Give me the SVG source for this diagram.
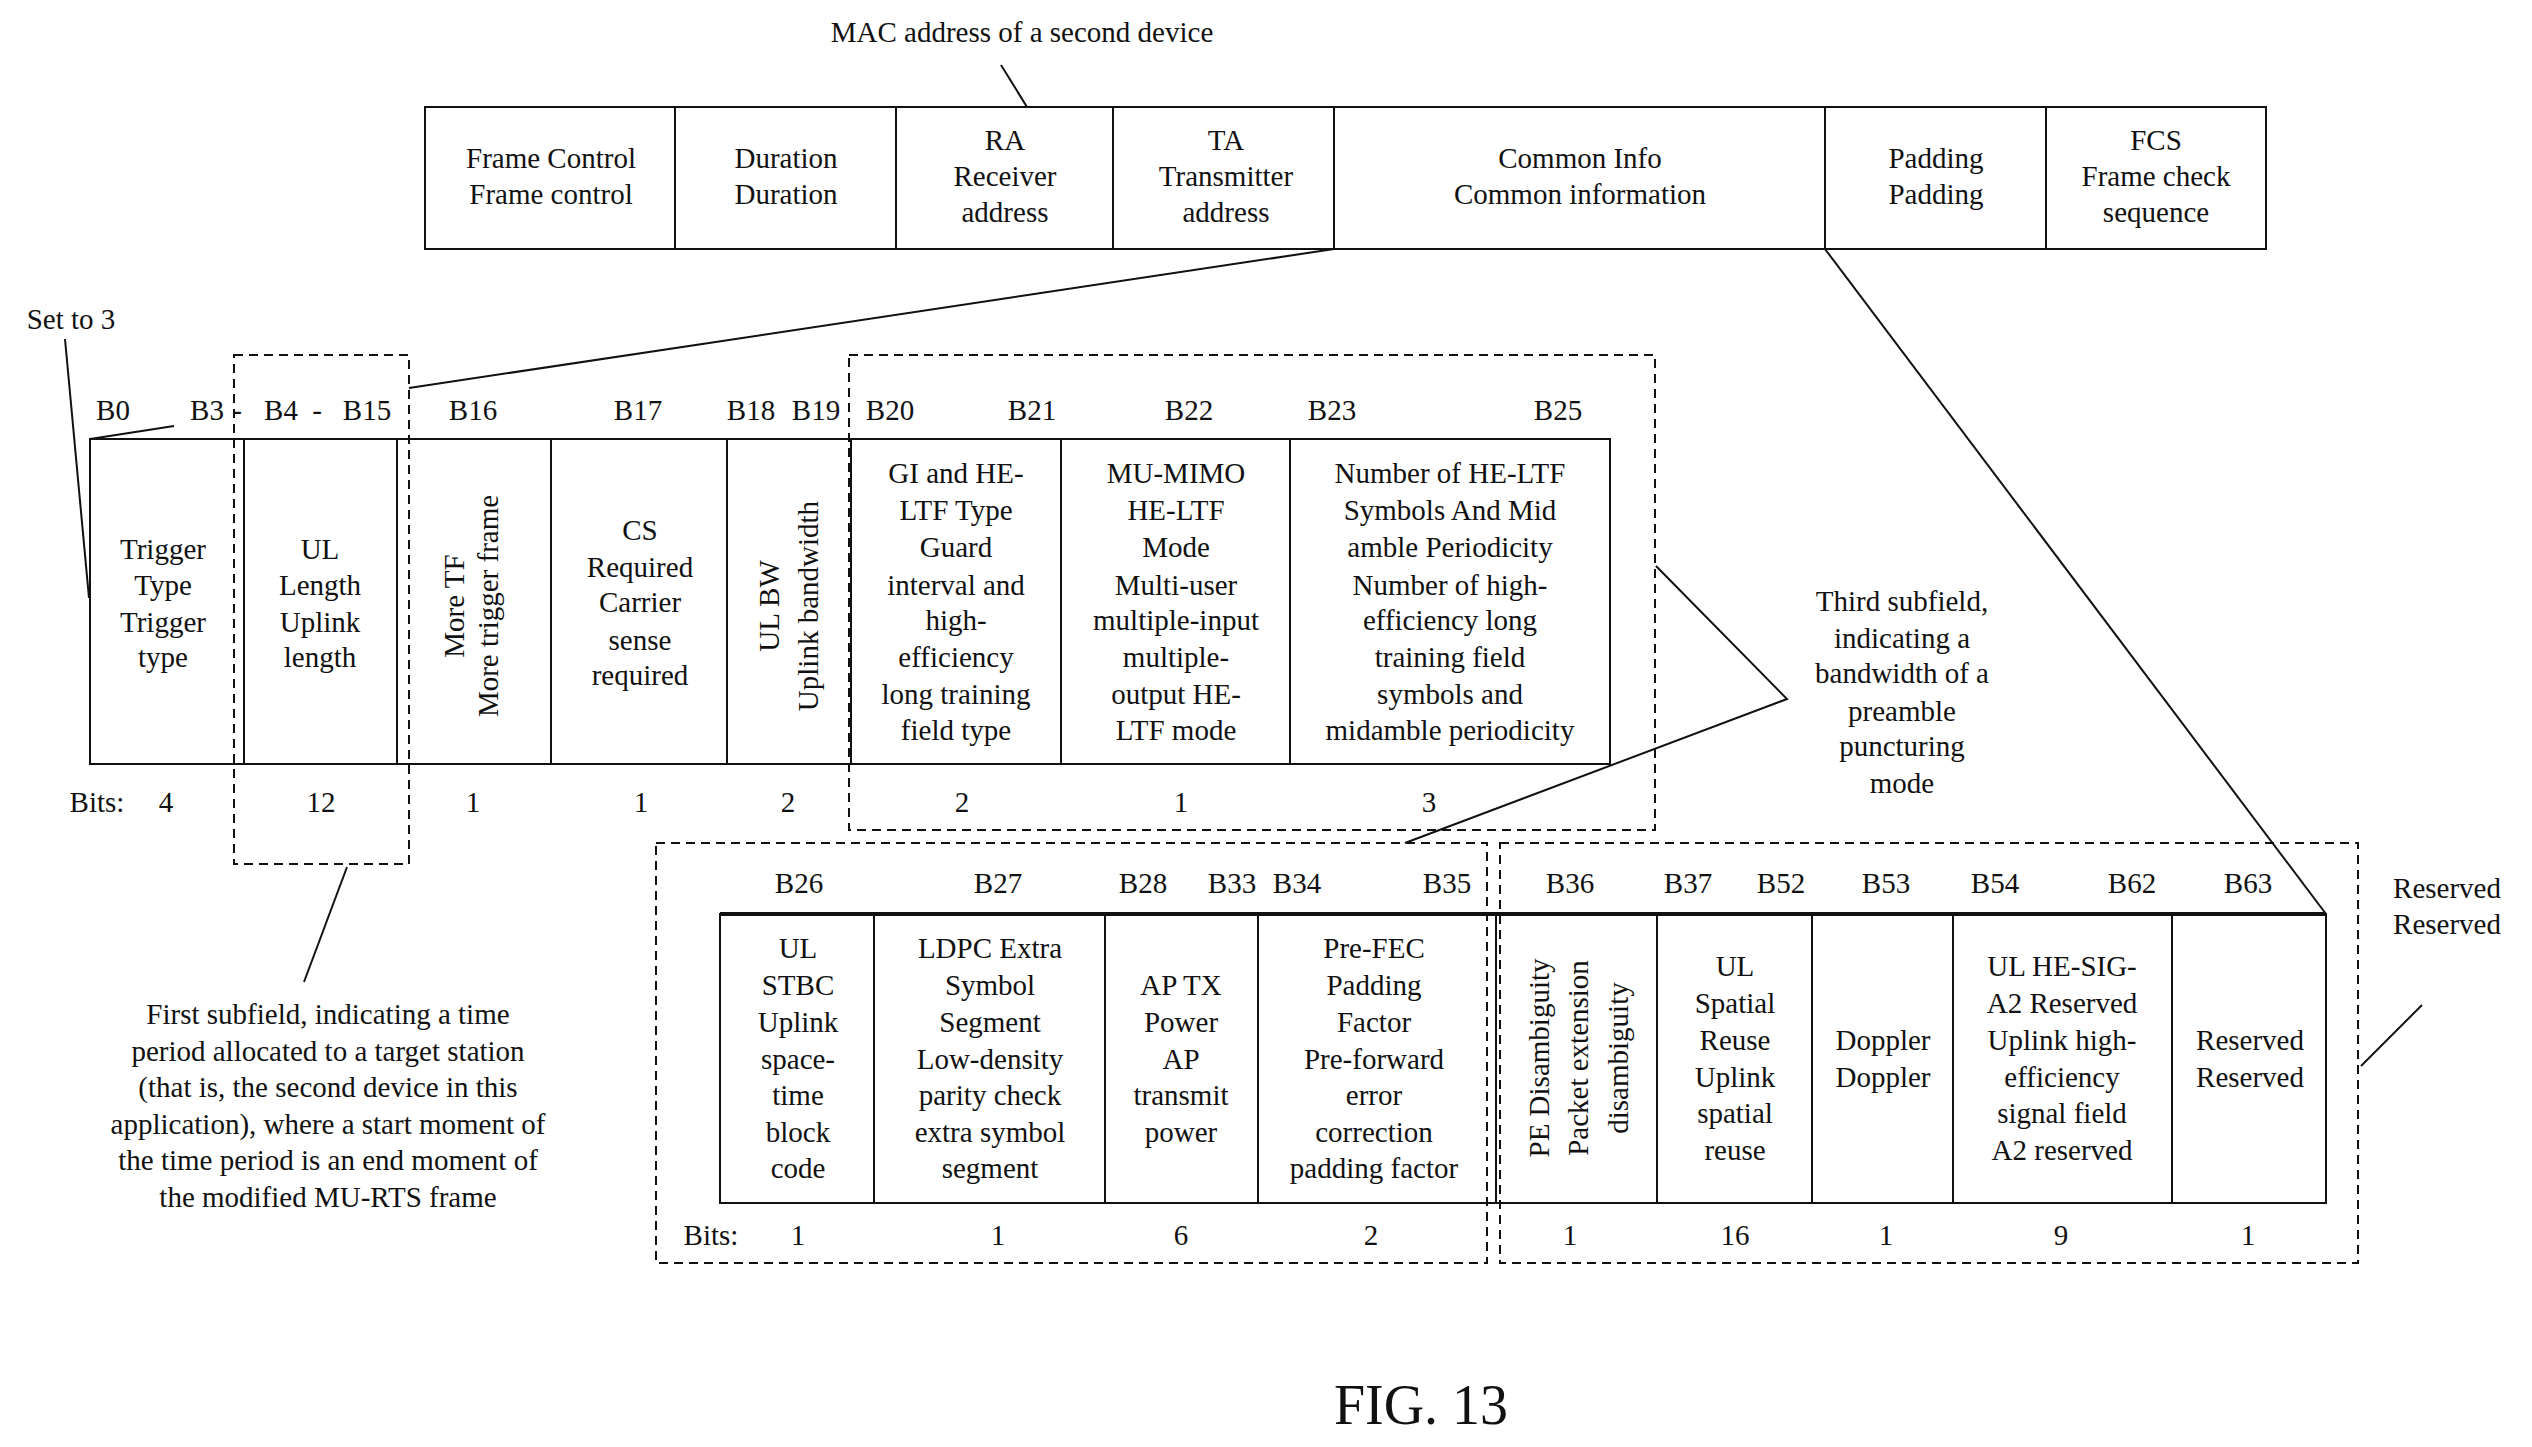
<svg xmlns="http://www.w3.org/2000/svg" width="2532" height="1447" viewBox="0 0 2532 1447">
<style>
text{font-family:"Liberation Serif","Times New Roman",serif;font-size:29px;fill:#111;text-anchor:middle}
.b{fill:none;stroke:#111;stroke-width:2}
.d{fill:none;stroke:#111;stroke-width:2;stroke-dasharray:9,6}
.l{fill:none;stroke:#111;stroke-width:2}
.s{text-anchor:start}
</style>
<rect width="2532" height="1447" fill="#fff"/>
<g id="top-row">
<rect class="b" x="425" y="107" width="1841" height="142"/>
<path class="b" d="M675 107V249M896 107V249M1113 107V249M1334 107V249M1825 107V249M2046 107V249"/>
<text x="551" y="168">Frame Control</text><text x="551" y="204">Frame control</text>
<text x="786" y="168">Duration</text><text x="786" y="204">Duration</text>
<text x="1005" y="150">RA</text><text x="1005" y="186">Receiver</text><text x="1005" y="222">address</text>
<text x="1226" y="150">TA</text><text x="1226" y="186">Transmitter</text><text x="1226" y="222">address</text>
<text x="1580" y="168">Common Info</text><text x="1580" y="204">Common information</text>
<text x="1936" y="168">Padding</text><text x="1936" y="204">Padding</text>
<text x="2156" y="150">FCS</text><text x="2156" y="186">Frame check</text><text x="2156" y="222">sequence</text>
</g>
<g id="mac-label"><text x="1022" y="42">MAC address of a second device</text></g>
<g id="common-info-row">
<rect class="b" x="90" y="439" width="1520" height="325"/>
<path class="b" d="M244 439V764M397 439V764M551 439V764M727 439V764M851 439V764M1061 439V764M1290 439V764"/>
<text x="113" y="420">B0</text><text x="207" y="420">B3</text><text x="237" y="420">-</text><text x="281" y="420">B4</text><text x="317" y="420">-</text><text x="367" y="420">B15</text>
<text x="473" y="420">B16</text><text x="638" y="420">B17</text><text x="751" y="420">B18</text><text x="816" y="420">B19</text>
<text x="890" y="420">B20</text><text x="1032" y="420">B21</text><text x="1189" y="420">B22</text><text x="1332" y="420">B23</text><text x="1558" y="420">B25</text>
<text x="163" y="559">Trigger</text><text x="163" y="595">Type</text><text x="163" y="632">Trigger</text><text x="163" y="667">type</text>
<text x="320" y="559">UL</text><text x="320" y="595">Length</text><text x="320" y="632">Uplink</text><text x="320" y="667">length</text>
<text transform="translate(464,606) rotate(-90)" x="0" y="0">More TF</text>
<text transform="translate(498,606) rotate(-90)" x="0" y="0">More trigger frame</text>
<text x="640" y="540">CS</text><text x="640" y="577">Required</text><text x="640" y="612">Carrier</text><text x="640" y="650">sense</text><text x="640" y="685">required</text>
<text transform="translate(779,606) rotate(-90)" x="0" y="0">UL BW</text>
<text transform="translate(818,606) rotate(-90)" x="0" y="0">Uplink bandwidth</text>
<text x="956" y="483">GI and HE-</text><text x="956" y="520">LTF Type</text><text x="956" y="557">Guard</text><text x="956" y="595">interval and</text><text x="956" y="630">high-</text><text x="956" y="667">efficiency</text><text x="956" y="704">long training</text><text x="956" y="740">field type</text>
<text x="1176" y="483">MU-MIMO</text><text x="1176" y="520">HE-LTF</text><text x="1176" y="557">Mode</text><text x="1176" y="595">Multi-user</text><text x="1176" y="630">multiple-input</text><text x="1176" y="667">multiple-</text><text x="1176" y="704">output HE-</text><text x="1176" y="740">LTF mode</text>
<text x="1450" y="483">Number of HE-LTF</text><text x="1450" y="520">Symbols And Mid</text><text x="1450" y="557">amble Periodicity</text><text x="1450" y="595">Number of high-</text><text x="1450" y="630">efficiency long</text><text x="1450" y="667">training field</text><text x="1450" y="704">symbols and</text><text x="1450" y="740">midamble periodicity</text>
<text x="97" y="812">Bits:</text><text x="166" y="812">4</text><text x="321" y="812">12</text><text x="473" y="812">1</text><text x="641" y="812">1</text><text x="788" y="812">2</text><text x="962" y="812">2</text><text x="1181" y="812">1</text><text x="1429" y="812">3</text>
</g>
<g id="bottom-row">
<rect class="b" x="720" y="914" width="1606" height="289"/>
<path d="M720 914H2326" stroke="#111" stroke-width="4"/>
<path class="b" d="M874 914V1203M1105 914V1203M1258 914V1203M1496 914V1203M1657 914V1203M1812 914V1203M1953 914V1203M2172 914V1203"/>
<text x="799" y="893">B26</text><text x="998" y="893">B27</text><text x="1143" y="893">B28</text><text x="1232" y="893">B33</text><text x="1297" y="893">B34</text><text x="1447" y="893">B35</text>
<text x="1570" y="893">B36</text><text x="1688" y="893">B37</text><text x="1781" y="893">B52</text><text x="1886" y="893">B53</text><text x="1995" y="893">B54</text><text x="2132" y="893">B62</text><text x="2248" y="893">B63</text>
<text x="798" y="958">UL</text><text x="798" y="995">STBC</text><text x="798" y="1032">Uplink</text><text x="798" y="1069">space-</text><text x="798" y="1105">time</text><text x="798" y="1142">block</text><text x="798" y="1178">code</text>
<text x="990" y="958">LDPC Extra</text><text x="990" y="995">Symbol</text><text x="990" y="1032">Segment</text><text x="990" y="1069">Low-density</text><text x="990" y="1105">parity check</text><text x="990" y="1142">extra symbol</text><text x="990" y="1178">segment</text>
<text x="1181" y="995">AP TX</text><text x="1181" y="1032">Power</text><text x="1181" y="1069">AP</text><text x="1181" y="1105">transmit</text><text x="1181" y="1142">power</text>
<text x="1374" y="958">Pre-FEC</text><text x="1374" y="995">Padding</text><text x="1374" y="1032">Factor</text><text x="1374" y="1069">Pre-forward</text><text x="1374" y="1105">error</text><text x="1374" y="1142">correction</text><text x="1374" y="1178">padding factor</text>
<text transform="translate(1549,1058) rotate(-90)" x="0" y="0">PE Disambiguity</text>
<text transform="translate(1588,1058) rotate(-90)" x="0" y="0">Packet extension</text>
<text transform="translate(1628,1058) rotate(-90)" x="0" y="0">disambiguity</text>
<text x="1735" y="976">UL</text><text x="1735" y="1013">Spatial</text><text x="1735" y="1050">Reuse</text><text x="1735" y="1087">Uplink</text><text x="1735" y="1123">spatial</text><text x="1735" y="1160">reuse</text>
<text x="1883" y="1050">Doppler</text><text x="1883" y="1087">Doppler</text>
<text x="2062" y="976">UL HE-SIG-</text><text x="2062" y="1013">A2 Reserved</text><text x="2062" y="1050">Uplink high-</text><text x="2062" y="1087">efficiency</text><text x="2062" y="1123">signal field</text><text x="2062" y="1160">A2 reserved</text>
<text x="2250" y="1050">Reserved</text><text x="2250" y="1087">Reserved</text>
<text x="711" y="1245">Bits:</text><text x="798" y="1245">1</text><text x="998" y="1245">1</text><text x="1181" y="1245">6</text><text x="1371" y="1245">2</text><text x="1570" y="1245">1</text><text x="1735" y="1245">16</text><text x="1886" y="1245">1</text><text x="2061" y="1245">9</text><text x="2248" y="1245">1</text>
</g>
<g id="annotations">
<text x="71" y="329">Set to 3</text>
<text x="1902" y="611">Third subfield,</text><text x="1902" y="648">indicating a</text><text x="1902" y="683">bandwidth of a</text><text x="1902" y="721">preamble</text><text x="1902" y="756">puncturing</text><text x="1902" y="793">mode</text>
<text x="328" y="1024">First subfield, indicating a time</text><text x="328" y="1061">period allocated to a target station</text><text x="328" y="1097">(that is, the second device in this</text><text x="328" y="1134">application), where a start moment of</text><text x="328" y="1170">the time period is an end moment of</text><text x="328" y="1207">the modified MU-RTS frame</text>
<text x="2447" y="898">Reserved</text><text x="2447" y="934">Reserved</text>
<text x="1421" y="1424" style="font-size:56px">FIG. 13</text>
</g>
<g id="connectors">
<path class="d" d="M234 355H409V864H234Z"/>
<path class="d" d="M849 355H1655V830H849Z"/>
<path class="d" d="M656 843H1487V1263H656Z"/>
<path class="d" d="M1500 843H2358V1263H1500Z"/>
<path class="l" d="M1001 65L1027 107"/>
<path class="l" d="M1334 249L409 388"/>
<path class="l" d="M65 339L89 598"/>
<path class="l" d="M90 439L174 426"/>
<path class="l" d="M1825 249L2326 914"/>
<path class="l" d="M1656 566L1787 699L1405 843"/>
<path class="l" d="M347 867L304 982"/>
<path class="l" d="M2422 1005L2361 1066"/>
</g>
</svg>
